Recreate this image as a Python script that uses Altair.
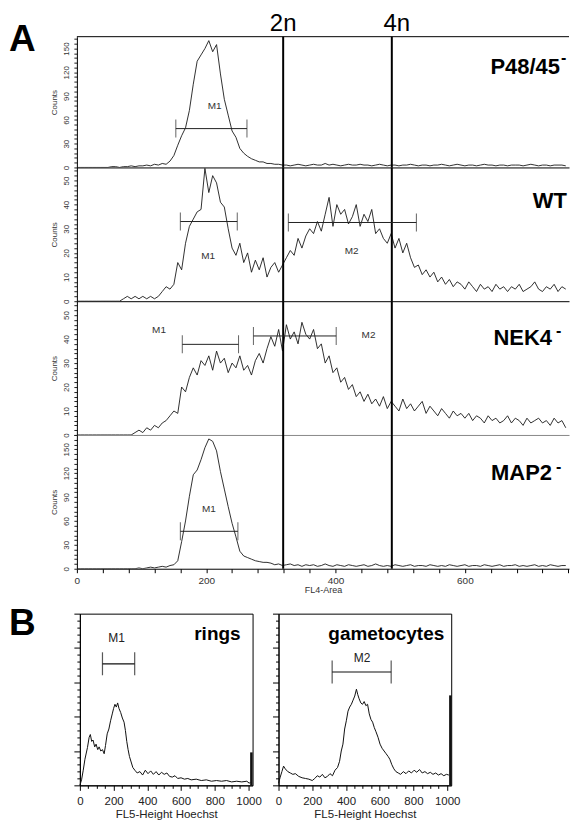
import altair as alt
import pandas as pd

FONT = "Liberation Sans"

# ---------------- Panel A : FL4-Area histograms (bins of 6 channels) ----------------
a_channels = list(range(0, 762, 6))

p48_counts = [
    0, 0, 0, 0, 0, 0, 0, 0, 0, 1,
    1, 0, 1, 1, 2, 1, 2, 2, 3, 2,
    4, 3, 5, 4, 8, 15, 28, 40, 50, 72,
    105, 134, 142, 150, 160, 146, 155, 118, 86, 66,
    46, 38, 24, 18, 14, 11, 9, 7, 7, 5,
    5, 4, 4, 3, 3, 2, 3, 4, 3, 2,
    3, 4, 3, 3, 5, 3, 4, 3, 2, 3,
    4, 3, 3, 4, 3, 3, 2, 3, 4, 3,
    2, 3, 3, 2, 3, 3, 4, 3, 2, 3,
    3, 2, 3, 3, 4, 3, 2, 3, 4, 3,
    2, 3, 3, 2, 3, 4, 3, 3, 2, 3,
    3, 2, 3, 3, 3, 2, 3, 4, 3, 2,
    3, 3, 2, 3, 3, 3, 2,
]
wt_counts = [
    0, 0, 0, 0, 0, 0, 0, 0, 0, 0,
    0, 0, 1, 2, 1, 2, 1, 2, 1, 2,
    1, 2, 4, 6, 5, 7, 16, 13, 24, 31,
    34, 37, 38, 55, 45, 52, 49, 41, 39, 30,
    22, 19, 24, 16, 20, 12, 17, 13, 18, 10,
    14, 16, 12, 15, 18, 21, 19, 26, 22, 27,
    30, 28, 33, 29, 36, 43, 31, 40, 36, 38,
    32, 35, 40, 31, 36, 33, 38, 28, 30, 26,
    24, 28, 22, 26, 20, 24, 18, 14, 15, 11,
    13, 10, 12, 8, 10, 7, 9, 6, 8, 7,
    5, 8, 6, 4, 7, 5, 6, 4, 7, 5,
    6, 4, 6, 5, 7, 4, 5, 6, 8, 5,
    4, 6, 5, 7, 4, 6, 5,
]
nek4_counts = [
    0, 0, 0, 0, 0, 0, 0, 0, 0, 0,
    0, 0, 0, 0, 0, 1, 2, 1, 3, 2,
    4, 3, 5, 6, 8, 10, 9, 20, 18, 24,
    28, 25, 31, 29, 33, 27, 35, 30, 32, 26,
    30, 28, 33, 27, 29, 25, 31, 34, 30, 36,
    41, 37, 44, 35, 46, 40, 43, 38, 47, 42,
    40, 44, 36, 38, 30, 33, 26, 28, 22, 24,
    19, 21, 16, 18, 14, 17, 13, 15, 12, 16,
    11, 14, 12, 10, 15, 11, 13, 10, 12, 14,
    9, 12, 10, 8, 11, 9, 7, 10, 8, 9,
    7, 9, 6, 8, 7, 5, 8, 6, 7, 5,
    6, 8, 5, 7, 6, 4, 7, 5, 6, 7,
    5, 6, 4, 7, 5, 6, 3,
]
map2_counts = [
    0, 0, 0, 0, 0, 0, 0, 0, 0, 0,
    0, 0, 0, 0, 0, 0, 1, 0, 1, 2,
    1, 2, 3, 2, 4, 5, 10, 34, 60, 91,
    118, 124, 137, 152, 163, 160, 148, 122, 100, 78,
    57, 40, 22, 16, 14, 12, 10, 9, 8, 8,
    7, 5, 6, 4, 5, 6, 4, 5, 3, 5,
    4, 5, 3, 4, 6, 4, 3, 5, 4, 3,
    5, 4, 3, 4, 5, 3, 4, 6, 4, 3,
    4, 3, 5, 4, 3, 4, 5, 3, 4, 4,
    3, 5, 4, 3, 4, 3, 5, 4, 3, 4,
    5, 3, 4, 4, 3, 5, 4, 3, 4, 5,
    3, 4, 4, 5, 3, 4, 3, 4, 5, 3,
    4, 3, 5, 4, 3, 4, 4,
]

ploidy_pos = [319, 487]
ploidy_text = ["2n", "4n"]

marker_panel = ["P48", "WT", "WT", "NEK4", "NEK4", "MAP2"]
marker_name = ["M1", "M1", "M2", "M1", "M2", "M1"]
marker_x1 = [153, 160, 327, 163, 273, 160]
marker_x2 = [263, 248, 525, 250, 401, 249]
marker_y = [49, 33, 32.6, 37.8, 41.3, 47]
marker_lx = [213, 203, 425, 127, 451, 204]
marker_ly = [77, 18.8, 20.8, 43.8, 41.7, 75]

# ---------------- Panel B : FL5-Height Hoechst ----------------
rings_x = [0, 10, 20, 30, 45, 55, 62, 70, 78, 88, 96, 106, 114, 124, 134, 144, 152, 162,
           172, 182, 192, 200, 208, 216, 224, 232, 242, 252, 262, 270, 278, 286, 294, 304,
           314, 326, 340, 356, 372, 388, 404, 420, 436, 452, 468, 484, 500, 516, 532, 548,
           564, 580, 600, 620, 640, 660, 690, 720, 750, 780, 810, 840, 870, 900, 930, 960,
           990, 1005, 1012]
rings_y = [0, 8, 22, 38, 55, 70, 74, 64, 66, 56, 60, 52, 56, 50, 52, 46, 58, 75,
           82, 94, 104, 112, 118, 114, 120, 112, 106, 98, 92, 80, 64, 52, 42, 34,
           26, 22, 18, 20, 15, 22, 17, 21, 16, 20, 15, 19, 16, 18, 13, 12,
           14, 10, 11, 9, 10, 8, 9, 7, 8, 6, 7, 6, 7, 5, 6, 5,
           6, 3, 5]
gam_x = [0, 10, 20, 30, 40, 55, 70, 85, 100, 120, 140, 160, 180, 200, 215, 230, 245, 260,
         275, 290, 305, 320, 335, 350, 362, 372, 382, 392, 402, 412, 422, 432, 442, 452,
         462, 470, 478, 488, 498, 508, 518, 528, 538, 548, 558, 568, 578, 590, 602, 614,
         626, 638, 650, 660, 672, 684, 696, 710, 724, 740, 756, 772, 788, 804, 820, 836,
         852, 868, 884, 900, 916, 932, 948, 964, 980, 996, 1010]
gam_y = [3, 12, 20, 28, 24, 20, 18, 16, 17, 13, 11, 10, 9, 7, 10, 14, 12, 16,
         11, 13, 17, 14, 22, 26, 35, 50, 60, 82, 94, 108, 114, 118, 124, 130,
         140, 132, 126, 120, 118, 122, 116, 118, 104, 96, 92, 84, 78, 70, 60, 54,
         50, 46, 42, 38, 30, 24, 20, 18, 16, 20, 17, 21, 18, 22, 19, 23,
         18, 20, 17, 19, 16, 18, 15, 17, 14, 16, 15]
b_spike_x = [1017, 1019]
b_spike_y = [48, 131]
b_marker_name = ["M1", "M2"]
b_marker_x1 = [134, 318]
b_marker_x2 = [325, 668]
b_marker_y = [177, 165]
b_marker_lx = [218, 495]
b_marker_ly = [215, 186]

# ---------------- build ----------------
A_W = 493
A_XMAX = 761

markers = pd.DataFrame({
    "panel": marker_panel, "name": marker_name, "x1": marker_x1, "x2": marker_x2,
    "y": marker_y, "lx": marker_lx, "ly": marker_ly,
})


def txt(t, x, y, size, bold=True, align="left", color="black"):
    return alt.Chart(pd.DataFrame({"t": [t]})).mark_text(
        font=FONT, fontSize=size, fontWeight="bold" if bold else "normal",
        align=align, baseline="alphabetic", color=color,
    ).encode(x=alt.value(x), y=alt.value(y), text="t:N")


def panel_a(key, counts, ymax, height, label_step, minor_step, name, name_right,
            name_base, minus=None, top=False, bottom=False, sep_color="black"):
    xs = alt.Scale(domain=[0, A_XMAX], nice=False, zero=False)
    ys = alt.Scale(domain=[0, ymax], nice=False, zero=True)
    if bottom:
        xaxis = alt.Axis(values=list(range(0, A_XMAX + 1, 40)),
                         labelExpr="datum.value % 200 === 0 ? datum.label : ''",
                         tickSize=4, tickColor="black", labelFontSize=10, labelColor="#333",
                         labelPadding=3, labelFlush=False, labelOverlap=False,
                         title="FL4-Area", titleFontSize=9, titleFontWeight="normal",
                         titleColor="#333", titlePadding=0, domainColor="black", grid=False)
    else:
        xaxis = alt.Axis(labels=False, ticks=False, title=None, domainColor=sep_color,
                         grid=False)
    yaxis = alt.Axis(values=list(range(0, int(ymax) + 1, minor_step)),
                     labelExpr=f"datum.value % {label_step} === 0 ? datum.label : ''",
                     labelAngle=270, labelAlign="center", labelBaseline="bottom",
                     labelFontSize=8, labelColor="#333", labelPadding=3,
                     labelFlush=False, labelOverlap=False,
                     tickSize=3, tickColor="#222", domainColor="black", grid=False,
                     title="Counts", titleFontSize=8, titleFontWeight="normal",
                     titleColor="#333", titlePadding=4)

    def X(f):
        return alt.X(f, scale=xs, axis=xaxis)

    def Y(f):
        return alt.Y(f, scale=ys, axis=yaxis)

    hist = pd.DataFrame({"channel": a_channels, "count": counts})
    layers = [
        alt.Chart(hist).mark_line(color="#1a1a1a", strokeWidth=0.9, clip=True).encode(
            x=X("channel:Q"), y=Y("count:Q")),
        alt.Chart(pd.DataFrame({"channel": ploidy_pos})).mark_rule(
            color="black", strokeWidth=2).encode(x=X("channel:Q")),
    ]
    mk = markers[markers.panel == key]
    layers += [
        alt.Chart(mk).mark_rule(color="#222", strokeWidth=1).encode(
            x=X("x1:Q"), x2="x2:Q", y=Y("y:Q")),
        alt.Chart(mk).transform_fold(["x1", "x2"], as_=["end", "ex"]).mark_tick(
            orient="vertical", size=18, thickness=1, color="#222").encode(
            x=X("ex:Q"), y=Y("y:Q")),
        alt.Chart(mk).mark_text(font=FONT, fontSize=10, color="#333").encode(
            x=X("lx:Q"), y=Y("ly:Q"), text="name:N"),
        txt(name, name_right, name_base, 22, align="right"),
    ]
    if minus:
        layers.append(txt("-", minus[0], minus[1], 16))
    if top:
        pl = pd.DataFrame({"channel": ploidy_pos, "lab": ploidy_text})
        layers += [
            alt.Chart(pd.DataFrame({"a": [0]})).mark_rule(color="black", strokeWidth=1).encode(
                x=alt.value(0), x2=alt.value(A_W), y=alt.value(0)),
            alt.Chart(pl).transform_filter("datum.lab == '2n'").mark_text(
                font=FONT, fontSize=24, baseline="alphabetic").encode(
                x=X("channel:Q"), y=alt.value(-6), text="lab:N"),
            alt.Chart(pl).transform_filter("datum.lab == '4n'").mark_text(
                font=FONT, fontSize=24, baseline="alphabetic", dx=5).encode(
                x=X("channel:Q"), y=alt.value(-6), text="lab:N"),
            txt("A", -68, 14, 37),
        ]
    return alt.layer(*layers).properties(width=A_W, height=height)


p1 = panel_a("P48", p48_counts, 165, 131, 30, 6, "P48/45", 484, 37, minus=(485, 26), top=True)
p2 = panel_a("WT", wt_counts, 55.4, 134, 10, 2, "WT", 491, 41)
p3 = panel_a("NEK4", nek4_counts, 55.8, 134, 10, 2, "NEK4", 476, 44, minus=(480, 35),
             sep_color="#888")
p4 = panel_a("MAP2", map2_counts, 168, 134, 30, 6, "MAP2", 476, 45, minus=(480, 37),
             bottom=True)

panel_A = alt.vconcat(p1, p2, p3, p4, spacing=0, bounds="flush")


def panel_b(xv, yv, spike_x, spike_y, idx, name, name_right, letter=False):
    xs = alt.Scale(domain=[0, 1024], nice=False, zero=False)
    ys = alt.Scale(domain=[0, 250], nice=False, zero=True)
    xaxis = alt.Axis(values=list(range(0, 1001, 50)), format="d",
                     labelExpr="datum.value % 200 === 0 ? datum.label : ''",
                     tickSize={"condition": {"test": "datum.value % 200 === 0", "value": 5},
                               "value": 3},
                     tickColor="black", labelFontSize=11.5, labelColor="#222", labelPadding=5,
                     labelFlush=False, labelOverlap=False, domainColor="black", grid=False,
                     title="FL5-Height Hoechst", titleFontSize=11.5, titleFontWeight="normal",
                     titleColor="#222", titlePadding=2)
    yaxis = alt.Axis(values=list(range(0, 251, 10)), labels=False, title=None,
                     tickSize={"condition": {"test": "datum.value % 50 === 0", "value": 6},
                               "value": 3},
                     tickColor="black", domainColor="black", grid=False)

    def X(f):
        return alt.X(f, scale=xs, axis=xaxis)

    def Y(f):
        return alt.Y(f, scale=ys, axis=yaxis)

    df = pd.DataFrame({"x": xv, "y": yv})
    mk = pd.DataFrame({"name": [b_marker_name[idx]], "x1": [b_marker_x1[idx]],
                       "x2": [b_marker_x2[idx]], "y": [b_marker_y[idx]],
                       "lx": [b_marker_lx[idx]], "ly": [b_marker_ly[idx]]})
    sp = pd.DataFrame({"x": [spike_x], "y": [spike_y]})
    layers = [
        alt.Chart(df).mark_line(color="#111", strokeWidth=1).encode(x=X("x:Q"), y=Y("y:Q")),
        alt.Chart(sp).mark_rule(color="#111", strokeWidth=2.5).encode(
            x=X("x:Q"), y=Y("y:Q"), y2=alt.datum(0)),
        alt.Chart(mk).mark_rule(color="#111", strokeWidth=1.2).encode(
            x=X("x1:Q"), x2="x2:Q", y=Y("y:Q")),
        alt.Chart(mk).transform_fold(["x1", "x2"], as_=["end", "ex"]).mark_tick(
            orient="vertical", size=23, thickness=1.2, color="#111").encode(
            x=X("ex:Q"), y=Y("y:Q")),
        alt.Chart(mk).mark_text(font=FONT, fontSize=12, color="#222").encode(
            x=X("lx:Q"), y=Y("ly:Q"), text="name:N"),
        txt(name, name_right, 26, 19, align="right"),
    ]
    if letter:
        layers.append(txt("B", -71, 21, 37))
    return alt.layer(*layers).properties(
        width=173, height=172, view=alt.ViewBackground(stroke="black", strokeWidth=1))


b1 = panel_b(rings_x, rings_y, b_spike_x[0], b_spike_y[0], 0, "rings", 161, letter=True)
b2 = panel_b(gam_x, gam_y, b_spike_x[1], b_spike_y[1], 1, "gametocytes", 166)
spacer = alt.Chart(pd.DataFrame({"a": [0]})).mark_text(text="").encode(
    x=alt.value(0), y=alt.value(0)).properties(width=3, height=172)
panel_B = alt.hconcat(
    spacer, alt.hconcat(b1, b2, spacing=26, bounds="flush"), spacing=0, bounds="flush")

chart = alt.vconcat(panel_A, panel_B, spacing=9).properties(
    padding={"left": 0, "top": 3, "right": 0, "bottom": 0}
).configure_view(strokeWidth=0).configure_axis(
    labelFont=FONT, titleFont=FONT
).configure_text(font=FONT)

chart.save("out.html", embed_options={"renderer": "svg", "actions": False})
